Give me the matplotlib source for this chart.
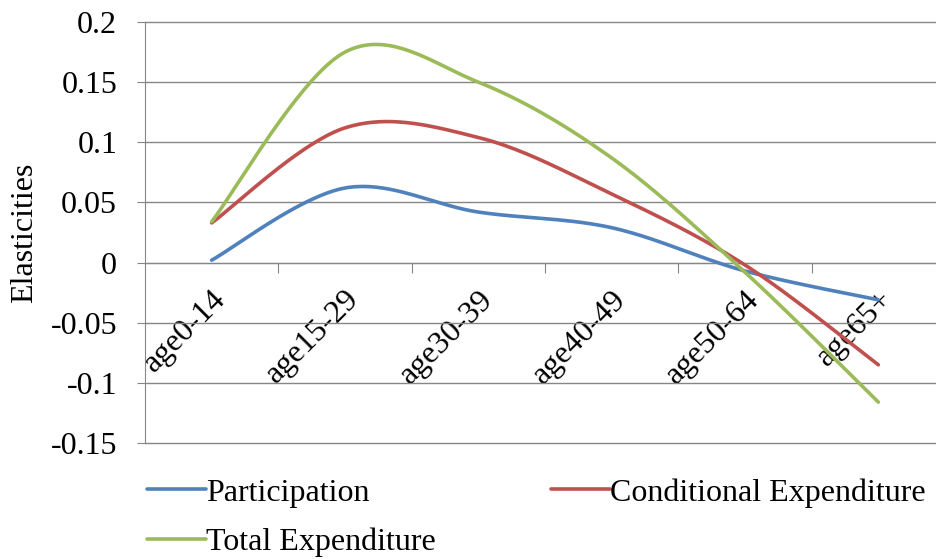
import numpy as np
import matplotlib.pyplot as plt
from matplotlib.transforms import ScaledTranslation

plt.rcParams['font.family'] = ['Liberation Serif', 'DejaVu Serif']

age_groups = ["age0-14", "age15-29", "age30-39", "age40-49", "age50-64", "age65+"]
participation = [0.002, 0.062, 0.042, 0.029, -0.007, -0.031]
conditional_exp = [0.033, 0.112, 0.104, 0.057, -0.002, -0.085]
total_exp = [0.034, 0.175, 0.150, 0.087, -0.008, -0.116]

series_names = ["Participation", "Conditional Expenditure", "Total Expenditure"]
series_colors = ["#4F81BD", "#C0504D", "#9BBB59"]

FS = 23


def smooth(xs, ys, steps=40):
    # Catmull-Rom curve through every point, like a smoothed line in a spreadsheet
    pts = np.column_stack([xs, ys]).astype(float)
    padded = np.vstack([pts[0], pts, pts[-1]])
    out = []
    t = np.linspace(0, 1, steps)[:, None]
    for i in range(1, len(padded) - 2):
        p0, p1, p2, p3 = padded[i - 1], padded[i], padded[i + 1], padded[i + 2]
        c1 = p1 + (p2 - p0) / 6
        c2 = p2 - (p3 - p1) / 6
        seg = ((1 - t) ** 3 * p1 + 3 * (1 - t) ** 2 * t * c1
               + 3 * (1 - t) * t ** 2 * c2 + t ** 3 * p2)
        out.append(seg if i == 1 else seg[1:])
    out = np.vstack(out)
    return out[:, 0], out[:, 1]


fig = plt.figure(figsize=(9.37, 5.59), dpi=100)
ax = fig.add_axes([145 / 937, 116 / 559, 800 / 937, 421 / 559])

x = np.arange(len(age_groups))
handles = []
for vals, name, col in zip([participation, conditional_exp, total_exp], series_names, series_colors):
    sx, sy = smooth(x, vals)
    h, = ax.plot(sx, sy, color=col, linewidth=2.6, solid_capstyle='round', label=name, zorder=3)
    handles.append(h)

ax.set_xlim(-0.5, len(age_groups) - 0.5)
ax.set_ylim(-0.15, 0.2)
ax.set_yticks(np.arange(-0.15, 0.2001, 0.05))
ax.set_yticklabels(["-0.15", "-0.1", "-0.05", "0", "0.05", "0.1", "0.15", "0.2"])
ax.yaxis.grid(True, color="#868686", linewidth=1)
for gl in ax.get_ygridlines():
    gl.set_clip_on(False)
ax.set_axisbelow(True)

# x axis sits at zero, tick marks on the category boundaries
ax.spines['bottom'].set_position(('data', 0))
ax.spines['bottom'].set_color("#868686")
ax.spines['left'].set_color("#868686")
ax.spines['top'].set_visible(False)
ax.spines['right'].set_visible(False)
ax.set_xticks(np.arange(0.5, len(age_groups) - 0.5, 1))
ax.set_xticklabels([])
ax.set_xticks(x, minor=True)
ax.set_xticklabels(age_groups, minor=True, rotation=45, ha='right', va='top',
                   rotation_mode='anchor', fontsize=FS)
nudge = ScaledTranslation(-4 / 100, 0, fig.dpi_scale_trans)
for lbl in ax.get_xticklabels(minor=True):
    lbl.set_transform(lbl.get_transform() + nudge)
ax.tick_params(axis='x', which='major', direction='out', length=7, color="#868686")
ax.tick_params(axis='x', which='minor', length=0, pad=16)
ax.tick_params(axis='y', direction='out', length=6, color="#868686", labelsize=FS, pad=14)

ax.set_ylabel("Elasticities", fontsize=FS, labelpad=8)

fig.legend([handles[0], handles[2], handles[1]],
           [series_names[0], series_names[2], series_names[1]],
           ncol=2, loc='upper left', bbox_to_anchor=(147 / 937, 1 - 478 / 559),
           frameon=False, fontsize=FS, handlelength=1.85, handletextpad=0.0,
           columnspacing=3.6, labelspacing=0.64, borderpad=0, borderaxespad=0)

fig.savefig("out.png", dpi=100)
